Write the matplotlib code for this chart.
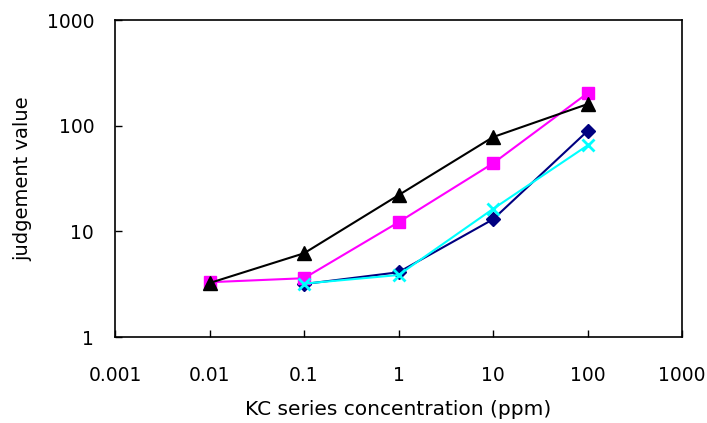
import matplotlib
matplotlib.use('Agg')
import matplotlib.pyplot as plt

plt.rcParams['font.family'] = ['DejaVu Sans']

conc = [0.01, 0.1, 1, 10, 100]
conc2 = [0.1, 1, 10, 100]

navy_vals = [3.17, 4.1, 13, 89]
magenta_vals = [3.3, 3.6, 12.2, 44, 203]
black_vals = [3.24, 6.2, 22, 78, 160]
cyan_vals = [3.2, 3.86, 16.3, 65]

xticks = [0.001, 0.01, 0.1, 1, 10, 100, 1000]
xticklabels = ['0.001', '0.01', '0.1', '1', '10', '100', '1000']
yticks = [1, 10, 100, 1000]
yticklabels = ['1', '10', '100', '1000']

fig = plt.figure(figsize=(7.07, 4.23), dpi=100)
ax = fig.add_axes([0.1627, 0.2033, 0.802, 0.7494])

ax.plot(conc2, navy_vals, color='#000080', marker='D', markersize=7, lw=1.5)
ax.plot(conc, magenta_vals, color='#FF00FF', marker='s', markersize=8.5, lw=1.5)
ax.plot(conc, black_vals, color='black', marker='^', markersize=9.5, lw=1.5)
ax.plot(conc2, cyan_vals, color='#00FFFF', marker='x', markersize=9, mew=2, lw=1.5)

ax.set_xscale('log')
ax.set_yscale('log')
ax.set_xlim(0.001, 1000)
ax.set_ylim(1, 1000)
ax.set_xticks(xticks)
ax.set_xticklabels(xticklabels)
ax.set_yticks(yticks)
ax.set_yticklabels(yticklabels)
ax.minorticks_off()
ax.tick_params(direction='in', length=5, width=1, labelsize=13.5)
ax.tick_params(axis='x', pad=21)
ax.tick_params(axis='y', pad=15)

for s in ax.spines.values():
    s.set_linewidth(1.2)

ax.set_xlabel('KC series concentration (ppm)', fontsize=14.5, labelpad=11)
ax.set_ylabel('judgement value', fontsize=14, labelpad=10)

fig.savefig('out.png', dpi=100)
